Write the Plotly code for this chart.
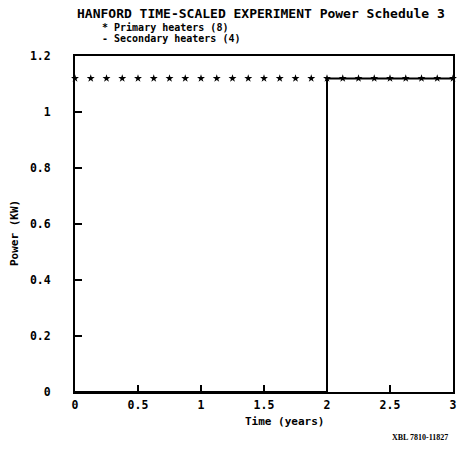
import plotly.graph_objects as go

# Primary heaters (8): star markers
time_primary = [0.0, 0.125, 0.25, 0.375, 0.5, 0.625, 0.75, 0.875, 1.0, 1.125, 1.25, 1.375,
                1.5, 1.625, 1.75, 1.875, 2.0, 2.125, 2.25, 2.375, 2.5, 2.625, 2.75, 2.875, 3.0]
power_primary = [1.12] * len(time_primary)

# Secondary heaters (4): step line
time_secondary = [0.0, 2.0, 2.0, 3.0]
power_secondary = [0.0, 0.0, 1.12, 1.12]

x_tickvals = [0, 0.5, 1, 1.5, 2, 2.5, 3]
x_ticktext = ["0", "0.5", "1", "1.5", "2", "2.5", "3"]
y_tickvals = [0, 0.2, 0.4, 0.6, 0.8, 1.0, 1.2]
y_ticktext = ["0", "0.2", "0.4", "0.6", "0.8", "1", "1.2"]

FONT = "DejaVu Sans Mono"

fig = go.Figure()
fig.add_trace(go.Scatter(x=time_secondary, y=power_secondary, mode="lines",
                         line=dict(color="black", width=2), cliponaxis=False,
                         showlegend=False))
fig.add_trace(go.Scatter(x=time_primary, y=power_primary, mode="markers",
                         marker=dict(symbol="star", size=6, color="black"),
                         cliponaxis=False, showlegend=False))

W, H = 457, 450
L, R, T, B = 75, 4, 56, 58
pw, ph = W - L - R, H - T - B

def px(x):
    return (x - L) / pw

def py(y):
    return (H - B - y) / ph

ann = [
    dict(text="HANFORD TIME-SCALED EXPERIMENT Power Schedule 3", x=px(75), y=py(13),
         xanchor="left", yanchor="middle", font=dict(size=13, family=FONT, color="black", weight="bold")),
    dict(text="* Primary heaters (8)", x=px(100), y=py(27),
         xanchor="left", yanchor="middle", font=dict(size=10, family=FONT, color="black", weight="bold")),
    dict(text="- Secondary heaters (4)", x=px(100), y=py(39),
         xanchor="left", yanchor="middle", font=dict(size=10, family=FONT, color="black", weight="bold")),
    dict(text="Time (years)", x=px(284), y=py(421),
         xanchor="center", yanchor="middle", font=dict(size=11, family=FONT, color="black", weight="bold")),
    dict(text="Power (KW)", x=px(14), y=py(233), textangle=-90,
         xanchor="center", yanchor="middle", font=dict(size=11, family=FONT, color="black", weight="bold")),
    dict(text="XBL 7810-11827", x=px(450), y=py(437),
         xanchor="right", yanchor="middle", font=dict(size=8, family="Liberation Serif", color="black", weight="bold")),
]
for a in ann:
    a.update(xref="paper", yref="paper", showarrow=False)

fig.update_layout(
    width=W, height=H,
    margin=dict(l=L, r=R, t=T, b=B, pad=0, autoexpand=False),
    paper_bgcolor="white", plot_bgcolor="white",
    annotations=ann,
    xaxis=dict(range=[0, 3], tickvals=x_tickvals, ticktext=x_ticktext, automargin=False,
               ticklabeloverflow="allow",
               showgrid=False, zeroline=False, showline=True, linecolor="black", linewidth=2,
               mirror=True, ticks="inside", ticklen=7, tickwidth=1.5, tickcolor="black",
               tickfont=dict(size=11.5, family=FONT, color="black", weight="bold"),
               ticklabelstandoff=1),
    yaxis=dict(range=[0, 1.2], tickvals=y_tickvals, ticktext=y_ticktext, automargin=False,
               ticklabeloverflow="allow",
               showgrid=False, zeroline=False, showline=True, linecolor="black", linewidth=2,
               mirror=True, ticks="inside", ticklen=7, tickwidth=1.5, tickcolor="black",
               tickfont=dict(size=11.5, family=FONT, color="black", weight="bold"),
               ticklabelstandoff=20),
)

fig.write_html("out.html")
